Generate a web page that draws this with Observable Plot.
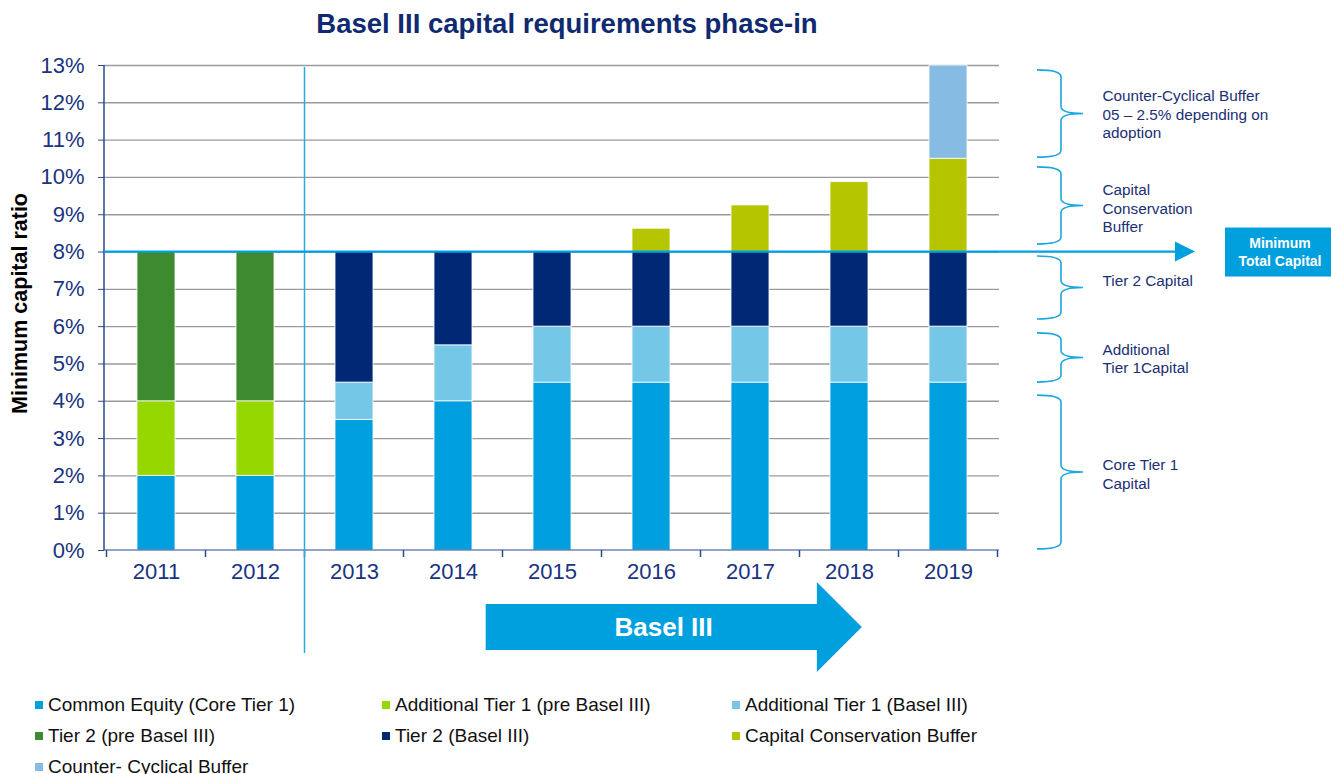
<!DOCTYPE html>
<html>
<head>
<meta charset="utf-8">
<script src="https://cdn.jsdelivr.net/npm/d3@7"></script>
<script src="https://cdn.jsdelivr.net/npm/@observablehq/plot@0.6"></script>
<style>
  html, body { margin: 0; padding: 0; background: #fff; overflow: hidden; }
  body { width: 1331px; height: 774px; font-family: "Liberation Sans", Arial, sans-serif; }
  #title { width: 1134px; height: 50px; line-height: 48px; text-align: center; font-size: 27.5px; font-weight: bold; color: #0F2A70; }
  #chart svg { display: block; overflow: visible; }
  #legend { display: grid; grid-template-columns: 347px 350px 350px; padding-left: 35px; padding-top: 3px; }
  .item { height: 31px; display: flex; align-items: center; font-size: 19px; color: #111; white-space: nowrap; }
  .sw { width: 8px; height: 8px; margin-right: 5px; flex: none; }
</style>
</head>
<body>
<div id="title">Basel III capital requirements phase-in</div>
<div id="chart"></div>
<div id="legend"></div>
<script>
// ---- data ----
const years = ["2011", "2012", "2013", "2014", "2015", "2016", "2017", "2018", "2019"];
const seriesNames = [
  "Common Equity (Core Tier 1)",
  "Additional Tier 1 (pre Basel III)",
  "Additional Tier 1 (Basel III)",
  "Tier 2 (pre Basel III)",
  "Tier 2 (Basel III)",
  "Capital Conservation Buffer",
  "Counter- Cyclical Buffer"
];
const seriesColors = ["#009FDF", "#97D700", "#75C7E7", "#3E8A2F", "#002874", "#B5C500", "#86BBE4"];
const commonEquity = [2, 2, 3.5, 4, 4.5, 4.5, 4.5, 4.5, 4.5];
const at1Pre       = [2, 2, 0, 0, 0, 0, 0, 0, 0];
const at1Basel     = [0, 0, 1, 1.5, 1.5, 1.5, 1.5, 1.5, 1.5];
const tier2Pre     = [4, 4, 0, 0, 0, 0, 0, 0, 0];
const tier2Basel   = [0, 0, 3.5, 2.5, 2, 2, 2, 2, 2];
const conservation = [0, 0, 0, 0, 0, 0.625, 1.25, 1.875, 2.5];
const countercyc   = [0, 0, 0, 0, 0, 0, 0, 0, 2.5];
const seriesValues = [commonEquity, at1Pre, at1Basel, tier2Pre, tier2Basel, conservation, countercyc];
const yTicks = [0, 1, 2, 3, 4, 5, 6, 7, 8, 9, 10, 11, 12, 13];
const minimumTotal = 8;
// bracket annotations (top %, bottom %, label centre %, text)
const braceTop    = [12.87, 10.27, 7.88, 5.82, 4.15];
const braceBottom = [10.53, 8.2, 6.19, 4.5, 0.03];
const braceLabelY = [11.71, 9.19, 7.26, 5.15, 2.06];
const braceText = [
  "Counter-Cyclical Buffer\n05 – 2.5% depending on\nadoption",
  "Capital\nConservation\nBuffer",
  "Tier 2 Capital",
  "Additional\nTier 1Capital",
  "Core Tier 1\nCapital"
];
const phaseLabel = "Basel III";
const boxLabel = ["Minimum", "Total Capital"];
const yLabel = "Minimum capital ratio";

// ---- table ----
const table = [];
seriesNames.forEach((s, si) => {
  years.forEach((yr, i) => {
    const v = seriesValues[si][i];
    if (v > 0) table.push({year: yr, series: s, value: v});
  });
});
const braces = braceText.map((t, i) => ({top: braceTop[i], bottom: braceBottom[i], ly: braceLabelY[i], text: t}));

const navy = "#1A3480";
const cyan = "#00A0DF";

function annotations(index, scales, values, dims) {
  const {x, y} = scales;
  const g = d3.create("svg:g");
  const L = dims.marginLeft, R = dims.width - dims.marginRight;
  const step = x(years[1]) - x(years[0]);
  const bw = x.bandwidth ? x.bandwidth() : step * 0.38;
  const pad = (step - bw) / 2;
  const y0 = y(0), yT = y(d3.max(yTicks));
  const center = yr => x(yr) + bw / 2;

  // axis lines
  g.append("line").attr("x1", L).attr("x2", L).attr("y1", yT).attr("y2", y0)
    .attr("stroke", "#2B4A8E").attr("stroke-width", 1.5);
  g.append("line").attr("x1", L).attr("x2", R).attr("y1", y0).attr("y2", y0)
    .attr("stroke", "#2B4A8E").attr("stroke-width", 1.2);
  // x boundary ticks
  for (let i = 0; i <= years.length; i++) {
    const xb = i < years.length ? x(years[i]) - pad : x(years[years.length - 1]) + bw + pad;
    g.append("line").attr("x1", xb).attr("x2", xb).attr("y1", y0).attr("y2", y0 + 7)
      .attr("stroke", "#2B4A8E").attr("stroke-width", 1.5);
  }
  // divider between 2012 and 2013
  const xd = x("2013") - pad;
  g.append("line").attr("x1", xd).attr("x2", xd).attr("y1", yT + 2).attr("y2", y0 + 103)
    .attr("stroke", "#29ABE2").attr("stroke-width", 1.5);

  // minimum total capital line + arrowhead
  const y8 = y(minimumTotal);
  g.append("line").attr("x1", L).attr("x2", R + 180).attr("y1", y8).attr("y2", y8)
    .attr("stroke", cyan).attr("stroke-width", 2.2);
  g.append("path").attr("d", `M${R + 176},${y8 - 10}L${R + 196},${y8}L${R + 176},${y8 + 10}Z`).attr("fill", cyan);
  // box
  g.append("rect").attr("x", R + 226).attr("y", y8 - 24).attr("width", 110).attr("height", 49).attr("fill", cyan);
  boxLabel.forEach((t, i) => {
    g.append("text").attr("x", R + 281).attr("y", y8 - 8 + i * 18).attr("dy", "0.35em")
      .attr("text-anchor", "middle").attr("fill", "#fff").attr("font-weight", "bold")
      .attr("font-size", 14).text(t);
  });

  // braces
  const xL = R + 38, xS = R + 62, xT = R + 84;
  braces.forEach(b => {
    const a = y(b.top), c = y(b.bottom), m = (a + c) / 2, r = 7;
    const d = `M${xL},${a}Q${xS},${a} ${xS},${a + r}L${xS},${m - r}Q${xS},${m} ${xT},${m}` +
              `Q${xS},${m} ${xS},${m + r}L${xS},${c - r}Q${xS},${c} ${xL},${c}`;
    g.append("path").attr("d", d).attr("fill", "none").attr("stroke", "#1BA6E0").attr("stroke-width", 1.6);
  });

  // Basel III phase arrow
  const xs = center("2014") + 0.33 * step;
  const tip = center("2018") + 0.13 * step;
  const hb = tip - 45;
  const ay = y0 + 77;
  g.append("path")
    .attr("d", `M${xs},${ay - 23}L${hb},${ay - 23}L${hb},${ay - 45}L${tip},${ay}L${hb},${ay + 45}L${hb},${ay + 23}L${xs},${ay + 23}Z`)
    .attr("fill", cyan);
  g.append("text").attr("x", xs + 178).attr("y", ay).attr("dy", "0.35em")
    .attr("text-anchor", "middle").attr("fill", "#fff").attr("font-weight", "bold")
    .attr("font-size", 26).text(phaseLabel);
  return g.node();
}

const chart = Plot.plot({
  width: 1331,
  height: 636,
  marginLeft: 104,
  marginRight: 332,
  marginTop: 15,
  marginBottom: 136,
  style: {fontFamily: "'Liberation Sans', Arial, sans-serif", background: "#fff", overflow: "visible"},
  x: {domain: years, paddingInner: 0.62, paddingOuter: 0.31},
  y: {domain: [0, 13], nice: false},
  color: {domain: seriesNames, range: seriesColors},
  marks: [
    Plot.ruleY(yTicks.filter(d => d > 0), {stroke: "#9A9A9A", strokeWidth: 1.4}),
    Plot.barY(table, {x: "year", y: "value", fill: "series", stroke: "#fff", strokeWidth: 1, strokeOpacity: 0.8}),
    annotations,
    Plot.axisY(yTicks, {tickFormat: d => d + "%", tickSize: 6, tickPadding: 14, fontSize: 22, color: navy, stroke: "#2B4A8E", label: null}),
    Plot.axisX({tickSize: 0, tickPadding: 13, fontSize: 22, color: navy, label: null}),
    Plot.text([yLabel], {frameAnchor: "left", dx: -84, dy: -4.5, rotate: -90, textAnchor: "middle", fontWeight: "bold", fontSize: 21.5, fill: "#000"}),
    Plot.text(braces, {y: "ly", text: "text", frameAnchor: "right", dx: 103, textAnchor: "start", lineAnchor: "middle", lineHeight: 1.2, fontSize: 15.3, fill: "#1B2F73"})
  ]
});
document.getElementById("chart").appendChild(chart);

// legend
const legend = document.getElementById("legend");
seriesNames.forEach((s, i) => {
  const it = document.createElement("div");
  it.className = "item";
  const sw = document.createElement("span");
  sw.className = "sw";
  sw.style.background = seriesColors[i];
  it.appendChild(sw);
  it.appendChild(document.createTextNode(s));
  legend.appendChild(it);
});
</script>
</body>
</html>
